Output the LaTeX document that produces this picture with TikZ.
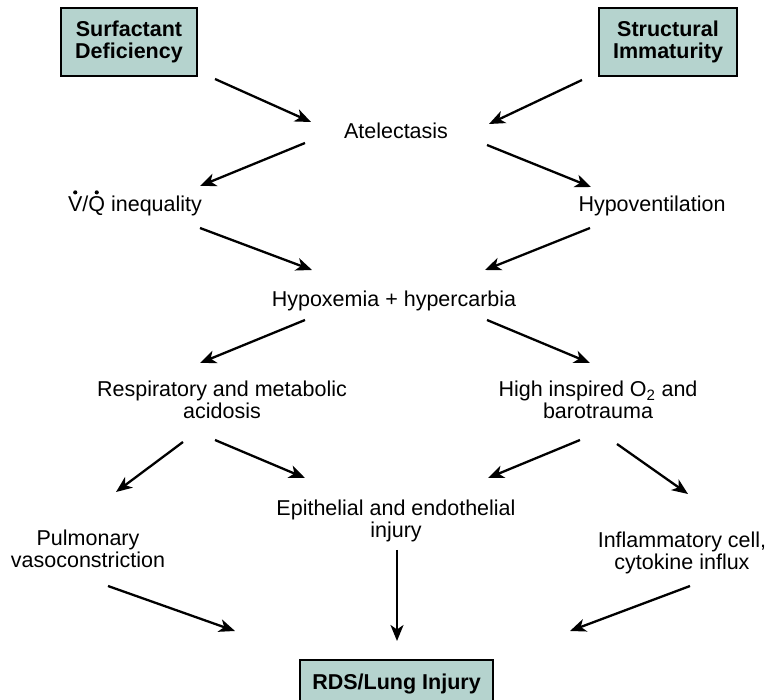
\documentclass[tikz,border=0pt]{standalone}
\usepackage{fontspec}
\setmainfont{Liberation Sans}
\usetikzlibrary{arrows.meta}
\definecolor{boxfill}{RGB}{181,211,206}
% letter with a bold rate dot above it
\newcommand\ratedot[1]{\leavevmode\setbox0\hbox{#1}%
  \rlap{\hbox to \wd0{\hss\raisebox{17.5pt}{\tikz\fill (0,0) circle[radius=2.1pt];}\hss}}\box0\relax}
\tikzset{
  x=1pt, y=-1pt,
  lbl/.style={font=\fontsize{21.5}{22}\selectfont, align=center, inner sep=0pt, anchor=base},
  causebox/.style={draw=black, line width=2pt, fill=boxfill, font=\fontsize{21.5}{22}\selectfont\bfseries, align=center, inner sep=0pt},
  flow/.style={line width=2.3pt, -{Stealth[length=16pt, width=13pt, inset=4.5pt]}}
}
\begin{document}
\begin{tikzpicture}
\useasboundingbox (0,0) rectangle (769,700);
% root causes and final outcome
\node[causebox, minimum width=136pt, minimum height=68pt] (surf) at (129,42) {Surfactant\\Deficiency};
\node[causebox, minimum width=138pt, minimum height=68pt] (struct) at (668,42) {Structural\\Immaturity};
\node[causebox, minimum width=193pt, anchor=north, inner ysep=14pt, text height=15pt, text depth=10pt] (rds) at (396.5,659) {RDS/Lung Injury};
% intermediate states (base anchor = baseline of the last line)
\node[lbl] (atel) at (396,139) {Atelectasis};
\node[lbl] (vq) at (135,212) {\ratedot{V}/\ratedot{Q} inequality};
\node[lbl] (hypov) at (652,212) {Hypoventilation};
\node[lbl] (hypox) at (394,307) {Hypoxemia + hypercarbia};
\node[lbl] (acid) at (222,419) {Respiratory and metabolic\\acidosis};
\node[lbl] (oxy) at (598,419) {High inspired O\textsubscript{2} and\\barotrauma};
\node[lbl] (epi) at (396,538) {Epithelial and endothelial\\injury};
\node[lbl] (pulm) at (88,568) {Pulmonary\\vasoconstriction};
\node[lbl] (infl) at (682,569) {Inflammatory cell,\\cytokine influx};
% arrow end points
\coordinate (a1s) at (215,79);  \coordinate (a1e) at (311,122);
\coordinate (a2s) at (582,80);  \coordinate (a2e) at (489,124);
\coordinate (a3s) at (305,143); \coordinate (a3e) at (200,186);
\coordinate (a4s) at (487,145); \coordinate (a4e) at (591,187);
\coordinate (a5s) at (200,228); \coordinate (a5e) at (312,270);
\coordinate (a6s) at (590,228); \coordinate (a6e) at (485,270);
\coordinate (a7s) at (305,320); \coordinate (a7e) at (200,363);
\coordinate (a8s) at (487,320); \coordinate (a8e) at (590,363);
\coordinate (a9s) at (183,442); \coordinate (a9e) at (116,492);
\coordinate (a10s) at (215,440); \coordinate (a10e) at (305,478);
\coordinate (a11s) at (580,440); \coordinate (a11e) at (488,478);
\coordinate (a12s) at (617,444); \coordinate (a12e) at (688,494);
\coordinate (a13s) at (108,586); \coordinate (a13e) at (235,631);
\coordinate (a14s) at (397,550); \coordinate (a14e) at (397,641);
\coordinate (a15s) at (690,586); \coordinate (a15e) at (570,631);
\draw[flow] (a1s) -- (a1e);
\draw[flow] (a2s) -- (a2e);
\draw[flow] (a3s) -- (a3e);
\draw[flow] (a4s) -- (a4e);
\draw[flow] (a5s) -- (a5e);
\draw[flow] (a6s) -- (a6e);
\draw[flow] (a7s) -- (a7e);
\draw[flow] (a8s) -- (a8e);
\draw[flow] (a9s) -- (a9e);
\draw[flow] (a10s) -- (a10e);
\draw[flow] (a11s) -- (a11e);
\draw[flow] (a12s) -- (a12e);
\draw[flow] (a13s) -- (a13e);
\draw[flow] (a14s) -- (a14e);
\draw[flow] (a15s) -- (a15e);
\end{tikzpicture}
\end{document}
